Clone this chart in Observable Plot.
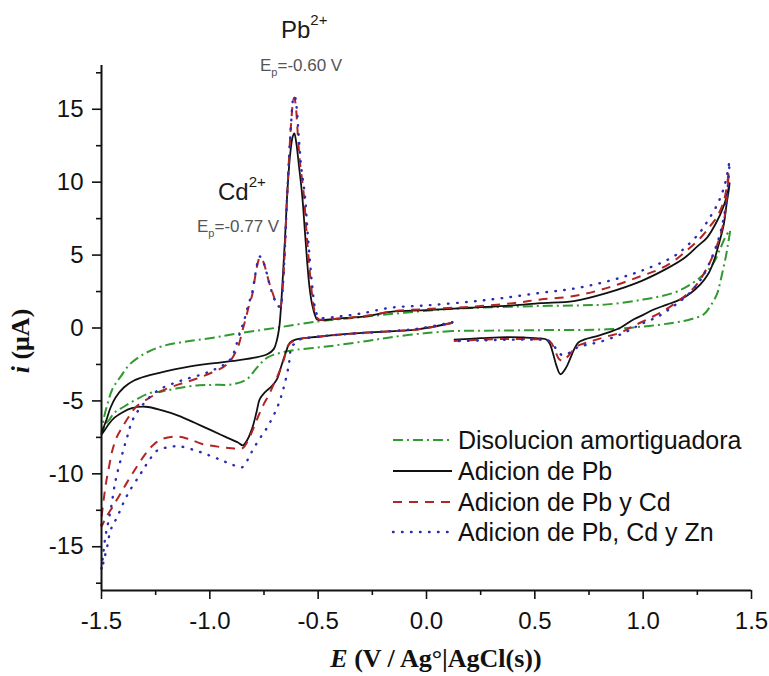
<!DOCTYPE html>
<html><head><meta charset="utf-8">
<script src="https://cdn.jsdelivr.net/npm/d3@7"></script>
<script src="https://cdn.jsdelivr.net/npm/@observablehq/plot@0.6"></script>
<style>
body{margin:0;background:#fff}
#chart{position:relative;width:769px;height:676px}
</style>
</head><body><div id="chart"></div>
<script>
// Series names (legend order)
const seriesNames = ["Disolucion amortiguadora", "Adicion de Pb", "Adicion de Pb y Cd", "Adicion de Pb, Cd y Zn"];

// Axis ticks
const xMajor = [-1.5, -1.0, -0.5, 0.0, 0.5, 1.0, 1.5];
const xMinor = [-1.25, -0.75, -0.25, 0.25, 0.75, 1.25];
const yMajor = [-15, -10, -5, 0, 5, 10, 15];
const yMinor = [-17.5, -12.5, -7.5, -2.5, 2.5, 7.5, 12.5, 17.5];
const xDomain = [-1.5, 1.5];
const yDomain = [-18, 18];

// Cyclic voltammograms: [E (V), i (µA)] in scan order, starting at 0.12 V
const buffer = [
  [0.12,-0.2],[0.0,-0.35],[-0.15,-0.6],[-0.274,-0.89],[-0.45,-1.25],[-0.643,-1.6],[-0.735,-2.03],[-0.782,-2.71],
  [-0.828,-3.5],[-0.89,-3.85],[-0.98,-3.9],[-1.05,-3.92],[-1.143,-4.12],[-1.22,-4.35],[-1.274,-4.45],[-1.34,-4.9],
  [-1.397,-5.4],[-1.44,-5.8],[-1.462,-6.25],[-1.485,-6.7],[-1.5,-7.3],
  [-1.488,-6.1],[-1.472,-5.2],[-1.45,-4.2],[-1.41,-3.3],[-1.37,-2.5],[-1.3,-1.75],[-1.22,-1.25],[-1.12,-0.95],
  [-1.0,-0.7],[-0.88,-0.4],[-0.7,0.0],[-0.5,0.45],[-0.3,0.75],[-0.1,1.05],[0.1,1.3],[0.3,1.42],[0.5,1.5],
  [0.7,1.55],[0.834,1.62],[1.0,1.95],[1.14,2.41],[1.22,3.0],[1.295,3.9],[1.33,4.6],[1.357,5.49],[1.375,6.1],[1.4,6.7],
  [1.392,5.8],[1.383,5.0],[1.37,4.1],[1.355,3.1],[1.34,2.3],[1.31,1.5],[1.28,0.94],[1.22,0.6],[1.14,0.36],
  [1.0,0.1],[0.834,-0.09],[0.5,-0.15],[0.3,-0.18],[0.12,-0.2]
];
const pb = [
  [0.12,0.36],[-0.04,-0.09],[-0.2,-0.25],[-0.35,-0.39],[-0.5,-0.6],[-0.6,-0.78],[-0.63,-1.0],[-0.65,-1.7],
  [-0.67,-2.6],[-0.69,-3.5],[-0.715,-4.0],[-0.745,-4.4],[-0.77,-4.9],[-0.785,-5.8],[-0.805,-6.9],[-0.83,-7.75],
  [-0.848,-8.05],[-0.87,-7.85],[-0.93,-7.45],[-0.99,-7.04],[-1.07,-6.5],[-1.143,-6.02],[-1.22,-5.65],[-1.297,-5.4],
  [-1.36,-5.5],[-1.404,-5.79],[-1.44,-6.15],[-1.466,-6.58],[-1.5,-7.3],
  [-1.475,-6.2],[-1.458,-5.45],[-1.435,-4.76],[-1.397,-4.08],[-1.35,-3.6],[-1.289,-3.28],[-1.2,-2.95],[-1.12,-2.71],
  [-1.0,-2.45],[-0.89,-2.26],[-0.8,-2.05],[-0.735,-1.8],[-0.705,-1.45],[-0.69,-0.8],[-0.68,0.0],[-0.674,0.93],
  [-0.667,2.5],[-0.659,4.58],[-0.65,7.0],[-0.643,9.14],[-0.63,11.8],[-0.618,13.1],[-0.61,13.35],[-0.6,12.6],
  [-0.59,11.3],[-0.574,9.14],[-0.562,6.8],[-0.551,4.58],[-0.54,2.8],[-0.528,1.62],[-0.515,0.9],[-0.505,0.59],
  [-0.48,0.55],[-0.4,0.65],[-0.274,0.82],[-0.166,1.11],[0.0,1.22],[0.203,1.39],[0.4,1.55],[0.526,1.7],[0.68,1.85],
  [0.834,2.41],[0.988,3.2],[1.1,4.0],[1.19,4.8],[1.25,5.6],[1.295,6.2],[1.34,7.3],[1.37,8.3],[1.39,9.3],[1.4,9.95],
  [1.385,8.5],[1.372,7.1],[1.35,5.8],[1.326,4.58],[1.3,3.7],[1.264,2.99],[1.22,2.4],[1.172,1.96],[1.11,1.6],
  [1.049,1.27],[1.0,0.9],[0.957,0.6],[0.895,0.02],[0.84,-0.3],[0.788,-0.55],[0.73,-0.78],[0.7,-1.0],[0.68,-1.5],
  [0.665,-2.03],[0.645,-2.7],[0.618,-3.17],[0.6,-2.6],[0.585,-1.8],[0.57,-1.1],[0.555,-0.8],[0.526,-0.72],
  [0.45,-0.65],[0.372,-0.62],[0.25,-0.7],[0.126,-0.8]
];
const pbCd = [
  [0.12,0.36],[-0.04,-0.1],[-0.2,-0.25],[-0.35,-0.4],[-0.5,-0.6],[-0.6,-0.8],[-0.625,-1.0],[-0.643,-1.3],
  [-0.655,-2.0],[-0.666,-2.48],[-0.685,-3.2],[-0.705,-3.85],[-0.728,-4.6],[-0.751,-5.22],[-0.775,-6.0],[-0.797,-6.81],
  [-0.82,-7.6],[-0.845,-8.2],[-0.86,-8.29],[-0.9,-8.25],[-0.943,-8.18],[-1.035,-7.95],[-1.1,-7.6],[-1.15,-7.45],
  [-1.22,-7.61],[-1.26,-8.0],[-1.297,-8.63],[-1.358,-10.0],[-1.404,-11.14],[-1.45,-12.3],[-1.48,-13.0],[-1.5,-13.6],
  [-1.482,-10.9],[-1.465,-9.5],[-1.45,-8.4],[-1.43,-7.5],[-1.404,-6.8],[-1.375,-6.1],[-1.343,-5.45],[-1.28,-4.8],
  [-1.22,-4.3],[-1.14,-3.85],[-1.066,-3.5],[-0.99,-3.05],[-0.94,-2.7],[-0.912,-2.37],[-0.89,-1.9],[-0.866,-1.12],
  [-0.85,-0.2],[-0.835,0.6],[-0.82,1.5],[-0.804,2.3],[-0.79,3.6],[-0.778,4.5],[-0.769,4.85],[-0.755,4.6],
  [-0.74,3.9],[-0.728,3.2],[-0.71,2.4],[-0.697,1.85],[-0.684,1.55],[-0.674,1.5],[-0.665,2.5],[-0.655,5.0],
  [-0.645,8.5],[-0.635,11.5],[-0.625,14.0],[-0.615,15.6],[-0.61,15.8],[-0.603,15.2],[-0.595,13.5],[-0.585,11.5],
  [-0.566,9.1],[-0.555,6.8],[-0.543,4.58],[-0.532,2.8],[-0.52,1.39],[-0.508,0.8],[-0.497,0.59],[-0.45,0.6],
  [-0.35,0.7],[-0.25,0.9],[-0.15,1.15],[0.0,1.3],[0.2,1.45],[0.4,1.7],[0.526,1.96],[0.68,2.19],[0.834,2.75],
  [0.988,3.55],[1.07,4.0],[1.14,4.58],[1.2,5.3],[1.264,6.17],[1.31,7.0],[1.34,7.6],[1.37,8.6],[1.385,9.6],[1.395,10.7],
  [1.385,8.8],[1.372,7.3],[1.342,5.72],[1.295,4.12],[1.234,2.75],[1.14,1.62],[1.08,1.05],[1.018,0.59],[0.95,0.1],
  [0.895,-0.32],[0.84,-0.55],[0.788,-0.78],[0.74,-1.0],[0.7,-1.2],[0.68,-1.46],[0.655,-1.9],[0.635,-2.2],
  [0.626,-2.26],[0.61,-2.1],[0.595,-1.6],[0.575,-1.0],[0.555,-0.8],[0.526,-0.78],[0.4,-0.75],[0.25,-0.8],[0.126,-0.89]
];
const pbCdZn = [
  [0.12,0.4],[-0.04,-0.05],[-0.2,-0.25],[-0.35,-0.4],[-0.5,-0.6],[-0.597,-0.85],[-0.61,-1.1],[-0.62,-1.2],
  [-0.628,-1.57],[-0.635,-2.48],[-0.659,-4.08],[-0.689,-5.45],[-0.735,-6.81],[-0.775,-7.7],[-0.812,-8.63],
  [-0.851,-9.55],[-0.9,-9.35],[-0.943,-9.09],[-1.0,-8.75],[-1.066,-8.4],[-1.143,-8.11],[-1.2,-8.2],[-1.243,-8.4],
  [-1.29,-9.3],[-1.32,-10.0],[-1.382,-11.48],[-1.428,-12.97],[-1.458,-13.87],[-1.474,-15.0],[-1.489,-15.93],[-1.5,-16.6],
  [-1.492,-15.5],[-1.482,-14.3],[-1.47,-13.4],[-1.458,-12.5],[-1.435,-10.46],[-1.404,-8.63],[-1.38,-7.4],
  [-1.358,-6.36],[-1.32,-5.45],[-1.243,-4.31],[-1.135,-3.62],[-1.012,-3.05],[-0.92,-2.37],[-0.895,-1.9],
  [-0.882,-1.35],[-0.858,-0.2],[-0.84,0.6],[-0.822,1.6],[-0.805,2.4],[-0.79,3.7],[-0.778,4.6],[-0.769,4.9],
  [-0.755,4.6],[-0.74,3.9],[-0.728,3.2],[-0.71,2.3],[-0.697,1.8],[-0.684,1.5],[-0.674,1.45],[-0.665,2.5],
  [-0.655,5.0],[-0.645,8.5],[-0.635,11.5],[-0.625,14.0],[-0.615,15.7],[-0.608,15.9],[-0.6,15.2],[-0.59,13.2],
  [-0.578,11.0],[-0.562,9.2],[-0.55,6.8],[-0.538,4.6],[-0.527,2.8],[-0.515,1.4],[-0.503,0.85],[-0.49,0.7],
  [-0.4,0.8],[-0.3,1.0],[-0.166,1.39],[0.0,1.55],[0.2,1.8],[0.35,2.05],[0.526,2.41],[0.68,2.7],[0.834,3.2],
  [0.988,3.9],[1.14,4.9],[1.2,5.6],[1.264,6.6],[1.3,7.4],[1.34,8.4],[1.37,9.5],[1.39,10.7],[1.398,11.4],
  [1.39,9.5],[1.375,7.8],[1.35,6.2],[1.31,4.6],[1.26,3.2],[1.2,2.2],[1.14,1.5],[1.07,0.8],[0.988,0.25],
  [0.93,-0.2],[0.87,-0.6],[0.8,-0.95],[0.74,-1.15],[0.7,-1.3],[0.67,-1.6],[0.645,-1.8],[0.625,-1.85],
  [0.605,-1.6],[0.585,-1.15],[0.56,-0.85],[0.526,-0.8],[0.4,-0.8],[0.25,-0.85],[0.126,-0.9]
];

const seriesData = [buffer, pb, pbCd, pbCdZn];
const colors = ["#2f9a2f", "#111111", "#b32424", "#2b2bb3"];
const dashes = ["10,4,2,4", null, "9,7", "0.6,8.4"];
const widths = [2, 1.8, 2, 2.4];
const caps = ["butt", "butt", "butt", "round"];

const toRows = (arr) => arr.map(([E, i]) => ({E, i}));

const lineMarks = seriesData.map((arr, k) => Plot.line(toRows(arr), {
  x: "E", y: "i", stroke: colors[k], strokeWidth: widths[k],
  strokeDasharray: dashes[k] ?? undefined, curve: "catmull-rom",
  strokeLinecap: caps[k]
}));

const chart = Plot.plot({
  width: 769, height: 676,
  marginLeft: 101, marginRight: 18, marginTop: 65, marginBottom: 86,
  style: {fontFamily: "'Liberation Sans', Arial, sans-serif", background: "#fff", color: "#111", overflow: "visible"},
  x: {domain: xDomain},
  y: {domain: yDomain},
  marks: [
    Plot.axisX({ticks: xMajor, tickSize: 9, tickPadding: 12, fontSize: 24, strokeWidth: 1.6, label: null, tickFormat: d => d.toFixed(1)}),
    Plot.axisX({ticks: xMinor, tickSize: 5, strokeWidth: 1.6, label: null, tickFormat: () => ""}),
    Plot.axisY({ticks: yMajor, tickSize: 9, tickPadding: 9, fontSize: 24, strokeWidth: 1.6, label: null, tickFormat: d => String(d)}),
    Plot.axisY({ticks: yMinor, tickSize: 5, strokeWidth: 1.6, label: null, tickFormat: () => ""}),
    ...lineMarks,
    Plot.ruleX([xDomain[0]], {strokeWidth: 2, stroke: "#111"}),
    Plot.ruleY([yDomain[0]], {strokeWidth: 2, stroke: "#111"})
  ]
});
document.getElementById("chart").appendChild(chart);

const svg = d3.select(chart);
const sans = "'Liberation Sans', Arial, sans-serif";
const serif = "'Liberation Serif', 'Times New Roman', serif";

// Axis labels
const xl = svg.append("text").attr("x", 436).attr("y", 667).attr("text-anchor", "middle")
  .attr("font-family", serif).attr("font-weight", "bold").attr("font-size", 26).attr("fill", "#111");
xl.append("tspan").attr("font-style", "italic").text("E");
xl.append("tspan").text(" (V / Ag°|AgCl(s))");
const yl = svg.append("text").attr("transform", "translate(29,341) rotate(-90)").attr("text-anchor", "middle")
  .attr("font-family", serif).attr("font-weight", "bold").attr("font-size", 26).attr("fill", "#111");
yl.append("tspan").attr("font-style", "italic").text("i");
yl.append("tspan").text(" (μA)");

// Peak annotations
function ion(x, y, base) {
  const t = svg.append("text").attr("x", x).attr("y", y).attr("text-anchor", "start")
    .attr("font-family", sans).attr("font-size", 24).attr("fill", "#1a1a1a");
  t.append("tspan").text(base);
  t.append("tspan").attr("font-size", 15).attr("dy", -13).text("2+");
}
function ep(x, y, val) {
  const t = svg.append("text").attr("x", x).attr("y", y).attr("text-anchor", "start")
    .attr("font-family", sans).attr("font-size", 17).attr("fill", "#555");
  t.append("tspan").text("E");
  t.append("tspan").attr("font-size", 11).attr("dy", 5).text("p");
  t.append("tspan").attr("dy", -5).text(val);
}
ion(281, 38, "Pb");
ep(260, 71, "=-0.60 V");
ion(218, 200, "Cd");
ep(197, 232, "=-0.77 V");

// Legend
const legendBase = [449, 480, 511, 541];
seriesNames.forEach((name, k) => {
  const y = legendBase[k] - 9;
  svg.append("line").attr("x1", 393).attr("x2", 452).attr("y1", y).attr("y2", y)
    .attr("stroke", colors[k]).attr("stroke-width", widths[k])
    .attr("stroke-dasharray", dashes[k]).attr("stroke-linecap", caps[k]);
  svg.append("text").attr("x", 458).attr("y", legendBase[k]).attr("text-anchor", "start")
    .attr("font-family", sans).attr("font-size", 25).attr("fill", "#111").text(name);
});
</script>
</body></html>
